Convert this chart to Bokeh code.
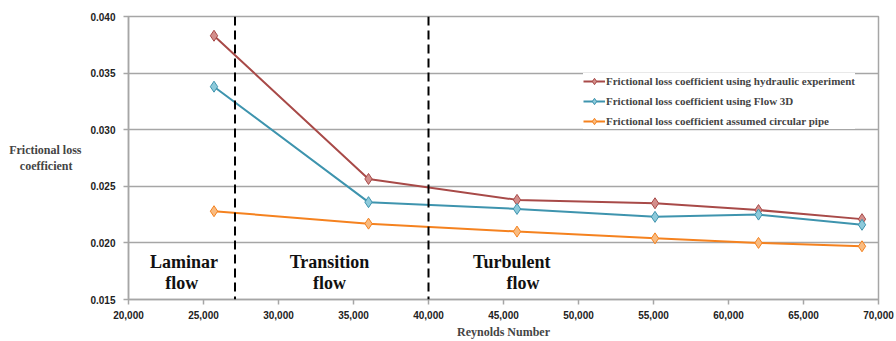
from bokeh.plotting import figure
from bokeh.models import Span, Legend, LegendItem, FixedTicker, NumeralTickFormatter, Range1d
from bokeh.core.properties import value
from bokeh.embed import file_html
from bokeh.resources import INLINE

reynolds = [25700, 36000, 45900, 55100, 62000, 68900]
hydraulic = [0.0383, 0.02565, 0.0238, 0.0235, 0.0229, 0.0221]
flow3d = [0.0338, 0.0236, 0.0230, 0.0223, 0.0225, 0.0216]
circular = [0.0228, 0.0217, 0.0210, 0.0204, 0.0200, 0.0197]
series_names = ["Frictional loss coefficient using hydraulic experiment",
                "Frictional loss coefficient using Flow 3D",
                "Frictional loss coefficient assumed circular pipe"]
x_ticks = [20000, 25000, 30000, 35000, 40000, 45000, 50000, 55000, 60000, 65000, 70000]
y_ticks = [0.015, 0.020, 0.025, 0.030, 0.035, 0.040]
boundaries = [27100, 40000]
regions = [("Laminar", "flow", 23700, 23550), ("Transition", "flow", 33400, 33400), ("Turbulent", "flow", 45550, 46300)]

serif = "Liberation Serif"
sans = "Liberation Sans"
grid_col = "#a6a6a6"

p = figure(width=896, height=341, output_backend="svg", toolbar_location=None,
           x_range=Range1d(20000, 70000), y_range=Range1d(0.015, 0.040),
           min_border_left=128, min_border_right=18, min_border_top=16, min_border_bottom=41)
p.background_fill_color = "white"
p.border_fill_color = "white"
p.outline_line_color = grid_col
p.outline_line_width = 1.5

p.xaxis.ticker = FixedTicker(ticks=x_ticks)
p.yaxis.ticker = FixedTicker(ticks=y_ticks)
p.xaxis.formatter = NumeralTickFormatter(format="0,0")
p.yaxis.formatter = NumeralTickFormatter(format="0.000")
for ax in (p.xaxis, p.yaxis):
    ax.axis_line_color = grid_col
    ax.axis_line_width = 1.5
    ax.major_tick_line_color = grid_col
    ax.major_tick_line_width = 1.5
    ax.major_tick_out = 5
    ax.major_tick_in = 0
    ax.minor_tick_line_color = None
    ax.major_label_text_font = sans
    ax.major_label_text_font_style = "bold"
    ax.major_label_text_font_size = "10px"
    ax.major_label_text_color = "#222222"
p.xaxis.major_label_standoff = 6
p.yaxis.major_label_standoff = 8
p.xaxis.axis_label = "Reynolds Number"
p.xaxis.axis_label_text_font = serif
p.xaxis.axis_label_text_font_style = "bold"
p.xaxis.axis_label_text_font_size = "12px"
p.xaxis.axis_label_standoff = 3

p.yaxis.axis_label = "Frictional loss\ncoefficient\u00a0\u00a0\u00a0"
p.yaxis.axis_label_orientation = "horizontal"
p.yaxis.axis_label_text_font = serif
p.yaxis.axis_label_text_font_style = "bold"
p.yaxis.axis_label_text_font_size = "12px"
p.yaxis.axis_label_standoff = 6

p.xgrid.grid_line_color = None
p.ygrid.grid_line_color = grid_col
p.ygrid.grid_line_width = 1.5

for b in boundaries:
    p.add_layout(Span(location=b, dimension="height", line_color="black", line_width=2, line_dash="9 5"))

colors = [("#A84A48", "#D38E8B"), ("#3E94AE", "#8DCADB"), ("#F5821F", "#F9BB80")]
items = []
for name, ys, (lc, fc) in zip(series_names, [hydraulic, flow3d, circular], colors):
    r1 = p.line(reynolds, ys, line_color=lc, line_width=2)
    r2 = p.scatter(reynolds, ys, marker="diamond", size=11, fill_color=fc, line_color=lc, line_width=1)
    items.append(LegendItem(label=name, renderers=[r1, r2]))

for w1, w2, x1, x2 in regions:
    p.text(x=[x1], y=[0.01835], text=[w1], text_font=value(serif), text_font_style="bold",
           text_font_size="18px", text_align="center", text_baseline="middle", text_color="#111111")
    p.text(x=[x2], y=[0.0165], text=[w2], text_font=value(serif), text_font_style="bold",
           text_font_size="18px", text_align="center", text_baseline="middle", text_color="#111111")

legend = Legend(items=items, location=(455, 170), label_text_font=serif, label_text_font_style="bold",
                label_text_font_size="11px", glyph_width=22, glyph_height=16, label_height=16,
                spacing=4, padding=0, margin=0, label_standoff=1, border_line_color=None,
                background_fill_color="white", background_fill_alpha=1)
p.add_layout(legend)

open("out.html", "w").write(file_html(p, INLINE))
